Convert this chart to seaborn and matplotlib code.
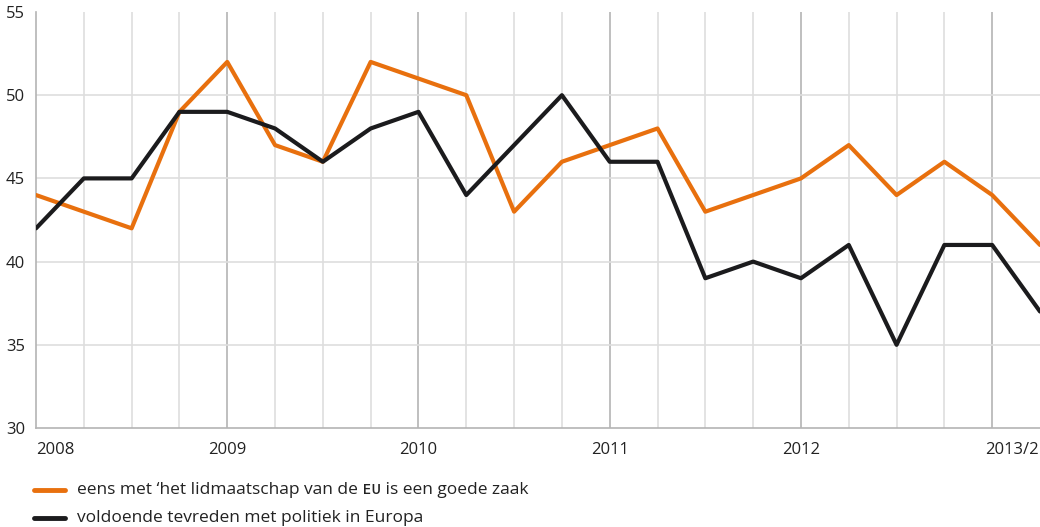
import numpy as np
import pandas as pd
import matplotlib
matplotlib.use("Agg")
import matplotlib.pyplot as plt
import matplotlib.transforms as mtransforms
import seaborn as sns

# quarterly observations, 2008 .. 2013/2 plus one
eens_eu = [44, 43, 42, 49, 52, 47, 46, 52, 51, 50, 43, 46,
           47, 48, 43, 44, 45, 47, 44, 46, 44, 41]
tevreden = [42, 45, 45, 49, 49, 48, 46, 48, 49, 44, 47, 50,
            46, 46, 39, 40, 39, 41, 35, 41, 41, 37]
year_labels = ["2008", "2009", "2010", "2011", "2012", "2013/2"]
legend_labels = ["eens met \u2018het lidmaatschap van de \u1d07\u1d1c is een goede zaak",
                 "voldoende tevreden met politiek in Europa"]

df = pd.DataFrame({
    "t": list(range(len(eens_eu))) * 2,
    "waarde": eens_eu + tevreden,
    "reeks": [legend_labels[0]] * len(eens_eu) + [legend_labels[1]] * len(tevreden),
})

sns.set_style("white")
plt.rcParams["font.family"] = ["Open Sans", "DejaVu Sans"]

orange = "#e8700e"
black = "#1b1b1d"

fig = plt.figure(figsize=(10.4, 5.27), dpi=100)
ax = fig.add_axes([36 / 1040, 1 - 428 / 527, 1 - 36 / 1040, 416 / 527])

sns.lineplot(data=df, x="t", y="waarde", hue="reeks", palette=[orange, black],
             linewidth=3, ax=ax, legend=False, zorder=3)

n = len(eens_eu)
ax.set_xlim(0, n - 1)
ax.set_ylim(30, 55)

# grid: quarters light, years darker
for q in range(1, n - 1):
    major = q % 4 == 0
    ax.axvline(q, color="#b4b4b4" if major else "#dedede", lw=1.2, zorder=1)
for y in [35, 40, 45, 50]:
    ax.axhline(y, color="#dedede", lw=1.2, zorder=1)

for s in ["top", "right"]:
    ax.spines[s].set_visible(False)
for s in ["left", "bottom"]:
    ax.spines[s].set_color("#b4b4b4")
    ax.spines[s].set_linewidth(1.2)

ax.set_yticks([30, 35, 40, 45, 50, 55])
ax.set_yticklabels(["30", "35", "40", "45", "50", "55"], fontsize=12, color="#222222")
ax.tick_params(axis="y", length=0, pad=8)

# year ticks; the last label is pushed against the right edge
ax.set_xticks(range(0, n - 4, 4))
ax.set_xticklabels(year_labels[:-1], fontsize=12, color="#222222")
ax.tick_params(axis="x", length=0, pad=10)
ax.get_xticklabels()[0].set_ha("left")
ax.set_xlabel("")
ax.set_ylabel("")

trans = mtransforms.offset_copy(ax.get_xaxis_transform(), fig=fig, x=-1, y=-10, units="points")
ax.text(n - 1, 0, year_labels[-1], transform=trans, fontsize=12, color="#222222",
        ha="right", va="top")

# legend below the plot
for i, (lab, col) in enumerate(zip(legend_labels, [orange, black])):
    yy = 1 - (490 + 28 * i) / 527
    fig.add_artist(plt.Line2D([34 / 1040, 65 / 1040], [yy, yy], color=col, lw=3.5,
                              solid_capstyle="round", transform=fig.transFigure))
    fig.text(77 / 1040, yy, lab, fontsize=12.5, color="#222222", va="center", ha="left")

fig.savefig("out.png", dpi=100)
